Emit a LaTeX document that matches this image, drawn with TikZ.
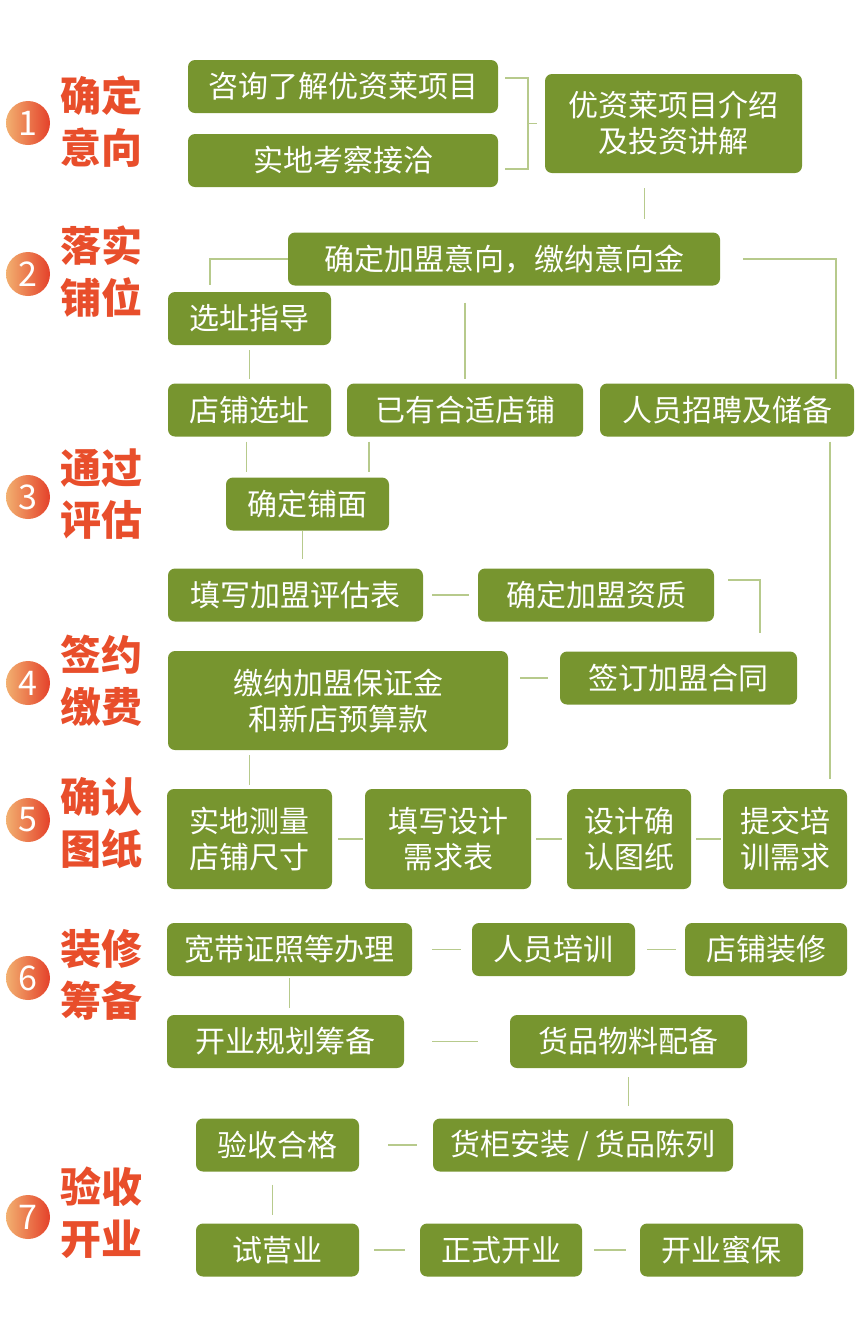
\documentclass[tikz,border=0pt]{standalone}
\usepackage{fontspec}
\setmainfont{Noto Sans CJK SC}
\usetikzlibrary{positioning,calc}
\definecolor{leaf}{HTML}{77952F}
\definecolor{twig}{HTML}{B7CA8C}
\definecolor{rust}{HTML}{E84E2B}
\definecolor{peach}{HTML}{F2B070}
\definecolor{ember}{HTML}{E4412A}

\begin{document}
\begin{tikzpicture}[
  x=1pt, y=-1pt,
  box/.style={rounded corners=7pt, fill=leaf, text=white, align=center,
              inner sep=0pt, minimum height=53pt, minimum width=#1,
              font=\fontsize{30}{36}\selectfont},
  tallbox/.style={box=#1, minimum height=99pt},
  num/.style={circle, minimum size=44pt, inner sep=0pt, left color=peach,
              right color=ember, text=white, font=\fontsize{34}{34}\selectfont},
  stepname/.style={text=rust, align=center, inner sep=0pt,
                   font=\fontsize{41}{52}\selectfont\bfseries},
  link/.style={twig, line width=1.5pt},
]
\useasboundingbox (0,0) rectangle (857,1342);

% ---------- Etapas ----------
\node[num] (n1) at (28,123) {1};
\node[stepname] (t1) at (101,121.5) {确定\\意向};
\node[num] (n2) at (28,274) {2};
\node[stepname] (t2) at (101,271.5) {落实\\铺位};
\node[num] (n3) at (28,497) {3};
\node[stepname] (t3) at (101,494) {通过\\评估};
\node[num] (n4) at (28,683) {4};
\node[stepname] (t4) at (101,681) {签约\\缴费};
\node[num] (n5) at (28,820) {5};
\node[stepname] (t5) at (101,823) {确认\\图纸};
\node[num] (n6) at (28,978) {6};
\node[stepname] (t6) at (101,974.5) {装修\\筹备};
\node[num] (n7) at (28,1217) {7};
\node[stepname] (t7) at (101,1213) {验收\\开业};

% ---------- 1 ----------
\node[box=310pt] (ask) at (343,86.5) {咨询了解优资莱项目};
\node[box=310pt] (visit) at (343,160.5) {实地考察接洽};
\node[tallbox=257pt] (intro) at (673.5,123.5) {优资莱项目介绍\\及投资讲解};

% ---------- 2 ----------
\node[box=432pt] (intent) at (504,259) {确定加盟意向，缴纳意向金};
\node[box=163pt] (guide) at (249.5,318.5) {选址指导};
\node[box=163pt] (site) at (249.5,410) {店铺选址};
\node[box=236pt] (has) at (465,410) {已有合适店铺};
\node[box=254pt] (recruit) at (727,410) {人员招聘及储备};

% ---------- 3 ----------
\node[box=163pt] (shop) at (307.5,504) {确定铺面};
\node[box=255pt] (fill) at (295.5,595) {填写加盟评估表};
\node[box=236pt] (qual) at (596,595) {确定加盟资质};

% ---------- 4 ----------
\node[tallbox=340pt] (pay) at (338,700.5) {缴纳加盟保证金\\和新店预算款};
\node[box=237pt] (sign) at (678.5,678) {签订加盟合同};

% ---------- 5 ----------
\node[tallbox=165pt, minimum height=100pt] (measure) at (249.5,839) {实地测量\\店铺尺寸};
\node[tallbox=166pt, minimum height=100pt] (design) at (448,839) {填写设计\\需求表};
\node[tallbox=124pt, minimum height=100pt] (drawing) at (629,839) {设计确\\认图纸};
\node[tallbox=124pt, minimum height=100pt] (submit) at (785,839) {提交培\\训需求};

% ---------- 6 ----------
\node[box=245pt] (permit) at (289.5,949.5) {宽带证照等办理};
\node[box=163pt] (train) at (553.5,949.5) {人员培训};
\node[box=162pt] (decor) at (766,949.5) {店铺装修};
\node[box=237pt] (plan) at (285.5,1041.5) {开业规划筹备};
\node[box=237pt] (goods) at (628.5,1041.5) {货品物料配备};

% ---------- 7 ----------
\node[box=163pt] (accept) at (277.5,1145) {验收合格};
\node[box=300pt] (install) at (583,1145) {货柜安装 / 货品陈列};
\node[box=163pt] (trial) at (277.5,1250) {试营业};
\node[box=162pt] (open) at (501,1250) {正式开业};
\node[box=163pt] (care) at (721.5,1250) {开业蜜保};

% ---------- Puntos de paso ----------
\coordinate (brk) at ($(ask.east)!0.5!(visit.east)+(30,0)$);
\coordinate (introDrop) at ($(intro.south)+(-29,0)$);
\coordinate (siteDrop) at ($(site.south)+(-3,0)$);
\coordinate (hasDrop) at ($(has.south west)+(22,0)$);
\coordinate (shopDrop) at ($(shop.south)+(-5,0)$);
\coordinate (recruitDrop) at ($(recruit.south east)+(-24,0)$);

% ---------- Conectores ----------
\draw[link] ($(ask.north east)+(7,18)$) -| (brk) |- ($(visit.south east)+(7,-18)$);
\draw[link] (brk) -- ($(brk)+(9,0)$);
\draw[link, shorten <=15pt, shorten >=13pt] (introDrop) -- (introDrop |- intent.north);
\draw[link] (intent.west) -| ($(guide.north west)+(42,-7)$);
\draw[link] ($(intent.east)+(23,0)$) -| ($(recruit.north east)+(-18,-4)$);
\draw[link, shorten <=17pt, shorten >=4pt] (has.north |- intent.south) -- (has.north);
\draw[link, shorten <=5pt, shorten >=4pt] (guide.south) -- (site.north);
\draw[link, shorten <=5pt, shorten >=5pt] (siteDrop) -- (siteDrop |- shop.north);
\draw[link, shorten <=5pt, shorten >=5pt] (hasDrop) -- (hasDrop |- shop.north);
\draw[link, shorten >=9pt] (shopDrop) -- (shopDrop |- fill.north);
\draw[link, shorten <=9pt, shorten >=9pt] (fill.east) -- (qual.west);
\draw[link] ($(qual.east)+(14,-15)$) -| ($(sign.north east)+(-37,-18)$);
\draw[link, shorten <=12pt, shorten >=12pt] (sign.west) -- (sign.west -| pay.east);
\draw[link, shorten <=5pt, shorten >=4pt] (measure.north |- pay.south) -- (measure.north);
\draw[link, shorten <=5pt, shorten >=10pt] (recruitDrop) -- (recruitDrop |- submit.north);
\draw[link, shorten <=6pt, shorten >=2pt] (measure.east) -- (design.west);
\draw[link, shorten <=5pt, shorten >=5pt] (design.east) -- (drawing.west);
\draw[link, shorten <=5pt, shorten >=2pt] (drawing.east) -- (submit.west);
\draw[link, shorten <=20pt, shorten >=11pt] (permit.east) -- (train.west);
\draw[link, shorten <=12pt, shorten >=9pt] (train.east) -- (decor.west);
\draw[link, shorten <=2pt, shorten >=7pt] (permit.south) -- (plan.north -| permit.south);
\draw[link, shorten <=28pt, shorten >=32pt] (plan.east) -- (goods.west);
\draw[link, shorten <=9pt, shorten >=12pt] (goods.south) -- (goods.south |- install.north);
\draw[link, shorten <=29pt, shorten >=16pt] (accept.east) -- (install.west);
\draw[link, shorten <=13pt, shorten >=8pt] ($(accept.south)+(-5,0)$) -- ($(trial.north)+(-5,0)$);
\draw[link, shorten <=15pt, shorten >=15pt] (trial.east) -- (open.west);
\draw[link, shorten <=12pt, shorten >=14pt] (open.east) -- (care.west);
\end{tikzpicture}
\end{document}
